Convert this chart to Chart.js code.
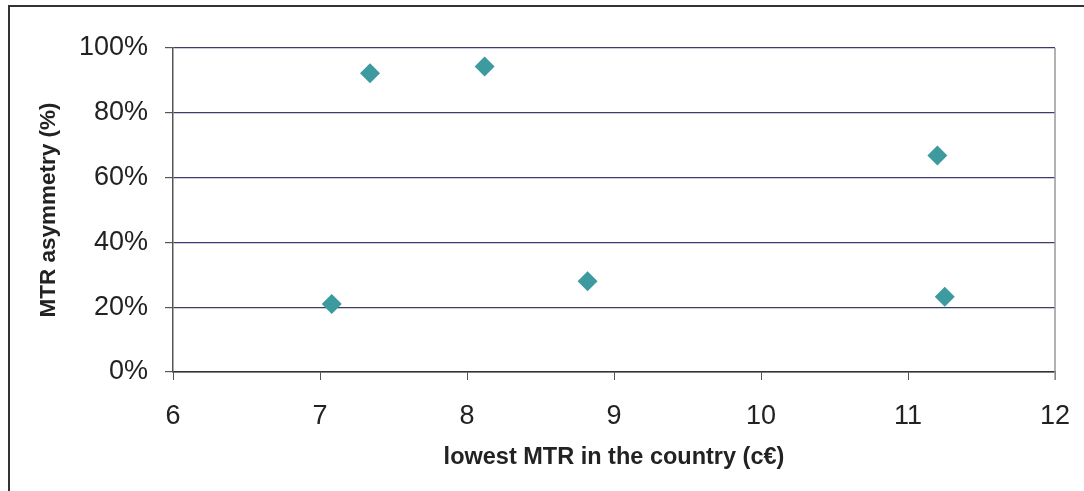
<!DOCTYPE html>
<html>
<head>
<meta charset="utf-8">
<script src="https://cdn.jsdelivr.net/npm/chart.js@4/dist/chart.umd.min.js"></script>
<style>
  html, body { margin: 0; padding: 0; background: #fff; overflow: hidden; }
  #wrap { position: relative; width: 1084px; height: 491px; }
</style>
</head>
<body>
<div id="wrap"><canvas id="chart" width="1084" height="491"></canvas></div>
<script>
// lowest MTR (c€) vs MTR asymmetry (%)
const lowestMtr = [7.08, 7.34, 8.12, 8.82, 11.2, 11.25];
const asymmetry = [21, 92.2, 94.3, 28, 66.8, 23.2];

const xTitle = 'lowest MTR in the country (c€)';
const yTitle = 'MTR asymmetry (%)';

const points = lowestMtr.map((x, i) => ({ x: x, y: asymmetry[i] }));

// outer frame + right border of the plot
const framePlugin = {
  id: 'frame',
  afterDraw(chart) {
    const ctx = chart.ctx;
    const a = chart.chartArea;
    ctx.save();
    ctx.strokeStyle = '#999';
    ctx.lineWidth = 1.5;
    ctx.beginPath();
    ctx.moveTo(a.right, a.top);
    ctx.lineTo(a.right, a.bottom + 8);
    ctx.stroke();
    ctx.strokeStyle = '#333';
    ctx.lineWidth = 2;
    ctx.strokeRect(9, 6, 1200, 1200);
    ctx.restore();
  }
};

const ctx = document.getElementById('chart').getContext('2d');
new Chart(ctx, {
  type: 'scatter',
  data: {
    datasets: [{
      data: points,
      pointStyle: 'rectRot',
      pointRadius: 10,
      pointHoverRadius: 10,
      backgroundColor: '#3d9a9e',
      borderColor: '#3d9a9e',
      borderWidth: 0
    }]
  },
  options: {
    responsive: false,
    animation: false,
    events: [],
    layout: { padding: { left: 0, top: 48, right: 29, bottom: 0 } },
    plugins: { legend: { display: false }, tooltip: { enabled: false } },
    scales: {
      x: {
        type: 'linear',
        min: 6,
        max: 12,
        ticks: {
          stepSize: 1,
          color: '#222',
          padding: 20,
          font: { family: 'Liberation Sans, Arial', size: 27 }
        },
        grid: {
          drawOnChartArea: false,
          tickLength: 8,
          tickColor: '#555',
          tickWidth: 1
        },
        border: { color: '#333', width: 1.5 },
        title: {
          display: true,
          text: xTitle,
          color: '#222',
          font: { family: 'Liberation Sans, Arial', size: 23.5, weight: 'bold' },
          padding: { top: 0, bottom: 19 }
        },
        afterFit(scale) {
          scale.height = 491 - 372;
          scale.paddingRight = 0;
        }
      },
      y: {
        type: 'linear',
        min: 0,
        max: 100,
        ticks: {
          stepSize: 20,
          color: '#222',
          padding: 17,
          font: { family: 'Liberation Sans, Arial', size: 27 },
          callback: v => v + '%'
        },
        grid: {
          color: '#3b3b6e',
          lineWidth: 1.2,
          tickLength: 8,
          tickColor: '#555'
        },
        border: { color: '#555', width: 1.5 },
        title: {
          display: true,
          text: yTitle,
          color: '#222',
          font: { family: 'Liberation Sans, Arial', size: 22.5, weight: 'bold' },
          padding: { top: 35, bottom: 0 }
        },
        afterFit(scale) { scale.width = 173; }
      }
    }
  },
  plugins: [framePlugin]
});
</script>
</body>
</html>
